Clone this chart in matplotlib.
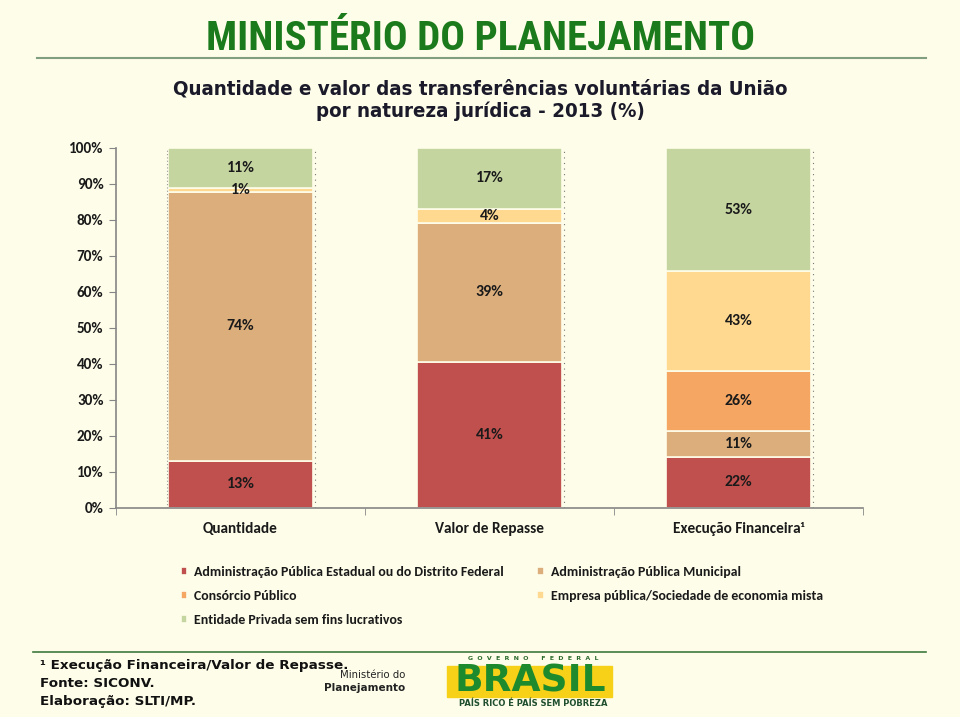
import matplotlib.pyplot as plt
import matplotlib.patches as mpatches
import numpy as np

# dados
categorias = ['Quantidade', 'Valor de Repasse', 'Execução Financeira¹']
estadual = [13, 41, 22]
municipal = [74, 39, 11]
consorcio = [0, 0, 26]
empresa = [1, 4, 43]
entidade = [11, 17, 53]

series = [estadual, municipal, consorcio, empresa, entidade]
nomes = ['Administração Pública Estadual ou do Distrito Federal',
         'Administração Pública Municipal',
         'Consórcio Público',
         'Empresa pública/Sociedade de economia mista',
         'Entidade Privada sem fins lucrativos']
cores = ['#C0504D', '#DCAE7C', '#F5A663', '#FFD990', '#C4D59F']

fundo = '#FEFDE9'
fonte = ['Carlito', 'DejaVu Sans']

fig = plt.figure(figsize=(9.6, 7.17), dpi=100, facecolor=fundo)
ax = fig.add_axes([0.1208, 0.2915, 0.778, 0.5021], facecolor=fundo)

dados = np.array(series, dtype=float)
totais = dados.sum(axis=0)
idx = np.arange(len(categorias))
bw = 0.58
base = np.zeros(len(categorias))
barras = []
for i in range(len(series)):
    h = dados[i] / totais
    b = ax.bar(idx, h, bw, bottom=base, color=cores[i], edgecolor=fundo,
               linewidth=1.2, label=nomes[i])
    barras.append(b)
    for j in range(len(categorias)):
        if dados[i][j] > 0:
            ax.text(idx[j], base[j] + h[j] / 2, '%d%%' % dados[i][j],
                    ha='center', va='center', fontsize=11.5,
                    fontweight='bold', family=fonte, color='#1a1a1a')
    base = base + h

# linhas pontilhadas nas bordas das barras
for j in idx:
    ax.plot([j + bw / 2 + 0.01] * 2, [0, 1], ls=(0, (1, 4)), color='#777777', lw=0.8)
ax.plot([-bw / 2 - 0.005] * 2, [0, 1], ls=(0, (1, 2)), color='#999999', lw=0.8)

ax.set_xlim(-0.5, 2.5)
ax.set_ylim(0, 1)
ax.set_yticks(np.arange(0, 1.01, 0.1))
ax.set_yticklabels(['%d%%' % v for v in range(0, 101, 10)], fontsize=11,
                   fontweight='bold', family=fonte, color='#1a1a1a')
ax.set_xticks(idx)
ax.set_xticklabels(categorias, fontsize=11, fontweight='bold', family=fonte, color='#1a1a1a')
ax.set_xticks([-0.5, 0.5, 1.5, 2.5], minor=True)
ax.tick_params(axis='x', which='major', length=0, pad=10)
ax.tick_params(axis='x', which='minor', length=5, color='#868686', direction='out')
ax.tick_params(axis='y', length=5, color='#868686', pad=4)
for s in ['top', 'right']:
    ax.spines[s].set_visible(False)
for s in ['left', 'bottom']:
    ax.spines[s].set_color('#868686')
    ax.spines[s].set_linewidth(1.2)

ordem = [0, 2, 4, 1, 3]
leg = fig.legend([barras[k] for k in ordem], [nomes[k] for k in ordem],
                 loc='upper left', bbox_to_anchor=(0.175, 0.228), ncol=2,
                 frameon=False, handlelength=0.45, handleheight=0.45,
                 handletextpad=0.55, columnspacing=2.4, labelspacing=0.86,
                 prop={'family': fonte, 'size': 10, 'weight': 'bold'})
for t in leg.get_texts():
    t.set_color('#1a1a1a')

# títulos
fig.text(0.5, 0.945, 'MINISTÉRIO DO PLANEJAMENTO', ha='center', va='center',
         fontsize=29.5, fontweight='bold', color='#1B7A1B',
         family=['Roboto Condensed', 'DejaVu Sans'])
fig.add_artist(plt.Line2D([0.039, 0.965], [0.919, 0.919], color='#7F9F7F', lw=1.5))
fig.text(0.5, 0.876, 'Quantidade e valor das transferências voluntárias da União',
         ha='center', va='center', fontsize=14.7, fontweight='bold', color='#1a1a2a',
         fontstretch='condensed', family='DejaVu Sans')
fig.text(0.5, 0.845, 'por natureza jurídica - 2013 (%)',
         ha='center', va='center', fontsize=14.7, fontweight='bold', color='#1a1a2a',
         fontstretch='condensed', family='DejaVu Sans')

# rodapé
fig.add_artist(plt.Line2D([0.034, 0.965], [0.09, 0.09], color='#3E7A3E', lw=1.2))
rodape = ['¹ Execução Financeira/Valor de Repasse.', 'Fonte: SICONV.', 'Elaboração: SLTI/MP.']
for k, t in enumerate(rodape):
    fig.text(0.042, 0.072 - k * 0.025, t, ha='left', va='center', fontsize=9.7,
             fontweight='bold', color='#111111', family='DejaVu Sans')
fig.text(0.422, 0.058, 'Ministério do', ha='right', va='center', fontsize=7.3,
         color='#222222', family='DejaVu Sans')
fig.text(0.422, 0.041, 'Planejamento', ha='right', va='center', fontsize=7.5,
         fontweight='bold', color='#222222', family='DejaVu Sans')

# marca do governo
fig.text(0.555, 0.082, 'G  O  V  E  R  N  O      F  E  D  E  R  A  L', ha='center',
         va='center', fontsize=4.5, fontweight='bold', color='#2E6B2E', family='DejaVu Sans')
fig.add_artist(mpatches.Rectangle((0.466, 0.028), 0.172, 0.043, transform=fig.transFigure,
                                  color='#F7D117', zorder=1))
fig.text(0.552, 0.049, 'BRASIL', ha='center', va='center', fontsize=27, fontweight='heavy',
         color='#1E8A2E', family='DejaVu Sans', zorder=2)
fig.text(0.555, 0.019, 'PAÍS RICO É PAÍS SEM POBREZA', ha='center', va='center',
         fontsize=6, fontweight='bold', color='#1F4F2F', family='DejaVu Sans')

fig.savefig('out.png', dpi=100, facecolor=fundo)
